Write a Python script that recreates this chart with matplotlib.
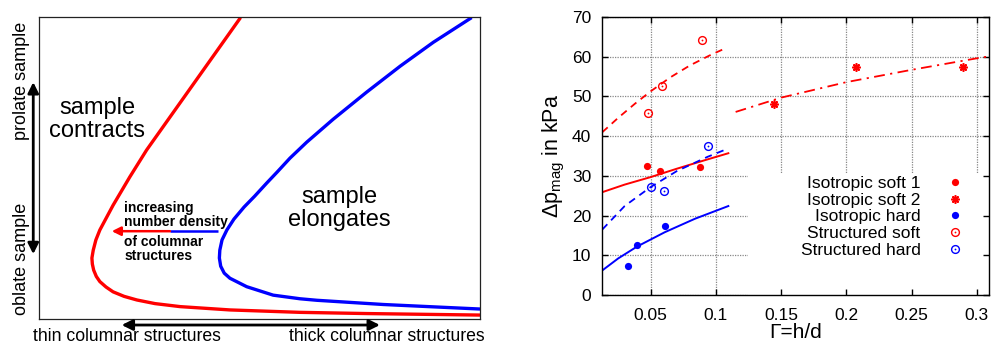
import numpy as np
import matplotlib
matplotlib.use('Agg')
import matplotlib.pyplot as plt
from matplotlib.patches import Rectangle

plt.rcParams['font.family'] = ['Liberation Sans', 'DejaVu Sans']
plt.rcParams['mathtext.fontset'] = 'custom'
plt.rcParams['mathtext.rm'] = 'Liberation Sans'
plt.rcParams['mathtext.it'] = 'Liberation Sans:italic'

# ---- left panel: schematic curves (axes fraction coordinates) ----
red_u = [0.457, 0.244, 0.206, 0.168, 0.138, 0.129, 0.123, 0.120, 0.121, 0.124,
         0.130, 0.138, 0.152, 0.168, 0.193, 0.222, 0.263, 0.320, 0.433, 0.592,
         0.743, 1.0]
red_w = [0.999, 0.560, 0.471, 0.377, 0.295, 0.262, 0.228, 0.202, 0.182, 0.162,
         0.141, 0.124, 0.106, 0.090, 0.075, 0.063, 0.051, 0.041, 0.030, 0.022,
         0.018, 0.013]
blue_u = [0.981, 0.894, 0.819, 0.743, 0.667, 0.607, 0.569, 0.540, 0.516, 0.489,
          0.465, 0.442, 0.426, 0.415, 0.410, 0.409, 0.412, 0.420, 0.433, 0.471,
          0.531, 0.592, 0.630, 0.781, 1.0]
blue_w = [0.999, 0.917, 0.838, 0.752, 0.662, 0.586, 0.533, 0.487, 0.450, 0.407,
          0.371, 0.331, 0.295, 0.262, 0.228, 0.202, 0.175, 0.152, 0.135, 0.107,
          0.079, 0.067, 0.062, 0.048, 0.033]

# ---- right panel: measured points ----
iso_soft1_x = [0.0474, 0.0571, 0.0880]
iso_soft1_y = [32.5, 31.2, 32.2]
iso_soft2_x = [0.1446, 0.2077, 0.2897]
iso_soft2_y = [48.0, 57.3, 57.5]
iso_hard_x = [0.0328, 0.0395, 0.0607]
iso_hard_y = [7.4, 12.5, 17.4]
str_soft_x = [0.0482, 0.0584, 0.0895]
str_soft_y = [45.8, 52.6, 64.1]
str_hard_x = [0.0502, 0.0604, 0.0936]
str_hard_y = [27.1, 26.2, 37.5]

# fit curves
fit_soft1_x = [0.0129, 0.03, 0.05, 0.07, 0.09, 0.1095]
fit_soft1_y = [25.9, 27.8, 29.7, 31.8, 33.8, 35.7]
fit_soft2_x = [0.1151, 0.15, 0.2, 0.25, 0.3, 0.3096]
fit_soft2_y = [46.1, 49.7, 53.6, 56.7, 59.6, 60.1]
fit_hard_x = [0.0129, 0.025, 0.0395, 0.0607, 0.0839, 0.1095]
fit_hard_y = [6.2, 9.2, 12.2, 15.8, 19.2, 22.4]
fit_strsoft_x = [0.0129, 0.025, 0.038, 0.05, 0.065, 0.08, 0.095, 0.1064]
fit_strsoft_y = [41.0, 44.6, 48.2, 51.3, 54.8, 57.8, 60.3, 62.0]
fit_strhard_x = [0.0129, 0.03, 0.05, 0.07, 0.0936, 0.1095]
fit_strhard_y = [16.5, 22.4, 27.2, 31.2, 34.8, 36.9]

xticks = [0.05, 0.1, 0.15, 0.2, 0.25, 0.3]
xtick_labels = ['0.05', '0.1', '0.15', '0.2', '0.25', '0.3']
yticks = [0, 10, 20, 30, 40, 50, 60, 70]

RED = '#ff0000'
BLUE = '#0000ff'

fig = plt.figure(figsize=(9.92, 3.45), dpi=100)

# ================= left panel =================
axl = fig.add_axes([0.0393, 0.0754, 0.4446, 0.8745])
axl.set_xlim(0, 1)
axl.set_ylim(0, 1)
axl.set_xticks([])
axl.set_yticks([])
for s in axl.spines.values():
    s.set_linewidth(0.9)
    s.set_color('#222222')
axl.plot(red_u, red_w, color=RED, lw=2.4, solid_joinstyle='round', solid_capstyle='butt')
axl.plot(blue_u, blue_w, color=BLUE, lw=2.4, solid_joinstyle='round', solid_capstyle='butt')

axl.text(0.132, 0.662, 'sample\ncontracts', fontsize=17, ha='center', va='center',
         linespacing=1.05)
axl.text(0.681, 0.367, 'sample\nelongates', fontsize=17, ha='center', va='center',
         linespacing=1.05)
axl.text(0.193, 0.344, 'increasing\nnumber density', fontsize=10, fontweight='bold',
         ha='left', va='center', linespacing=1.0)
axl.text(0.193, 0.232, 'of columnar\nstructures', fontsize=10, fontweight='bold',
         ha='left', va='center', linespacing=1.0)

# small arrow: blue tail, red head
axl.plot([0.297, 0.407], [0.291, 0.291], color=BLUE, lw=1.8, solid_capstyle='butt')
axl.annotate('', xy=(0.165, 0.291), xytext=(0.297, 0.291),
             arrowprops=dict(arrowstyle='-|>', color=RED, lw=1.8,
                             mutation_scale=13, shrinkA=0, shrinkB=0))

# outer double arrows
axl.annotate('', xy=(-0.013, 0.785), xytext=(-0.013, 0.215), annotation_clip=False,
             arrowprops=dict(arrowstyle='<|-|>', color='black', lw=2.0,
                             mutation_scale=16, shrinkA=0, shrinkB=0))
axl.annotate('', xy=(0.1875, -0.02), xytext=(0.773, -0.02), annotation_clip=False,
             arrowprops=dict(arrowstyle='<|-|>', color='black', lw=2.0,
                             mutation_scale=16, shrinkA=0, shrinkB=0))
axl.text(-0.039, 0.789, 'prolate sample', fontsize=13, rotation=90,
         ha='center', va='center')
axl.text(-0.039, 0.199, 'oblate sample', fontsize=13, rotation=90,
         ha='center', va='center')
axl.text(0.200, -0.0855, 'thin columnar structures', fontsize=12.7,
         ha='center', va='bottom')
axl.text(0.789, -0.0855, 'thick columnar structures', fontsize=12.7,
         ha='center', va='bottom')

# ================= right panel =================
rect = [0.6072, 0.1449, 0.3901, 0.8058]
xlim = (0.0129, 0.3096)
ylim = (0, 70)

axg = fig.add_axes(rect)
axg.set_xlim(*xlim)
axg.set_ylim(*ylim)
axg.set_xticks(xticks)
axg.set_yticks(yticks)
axg.tick_params(length=0, labelbottom=False, labelleft=False)
axg.grid(True, color='#888888', linestyle=(0, (1, 1)), linewidth=0.9)
for s in axg.spines.values():
    s.set_visible(False)

ax = fig.add_axes(rect)
ax.set_facecolor('none')
ax.set_xlim(*xlim)
ax.set_ylim(*ylim)
ax.set_xticks(xticks)
ax.set_xticklabels(xtick_labels)
ax.set_yticks(yticks)
ax.tick_params(direction='in', length=4, width=1, top=True, right=True,
               labelsize=12.5)
ax.tick_params(axis='x', pad=9)
ax.tick_params(axis='y', pad=8)
for s in ax.spines.values():
    s.set_linewidth(1.0)

# white box behind the key
ax.add_patch(Rectangle((0.377, 0.0), 0.623, 0.437, transform=ax.transAxes,
                       facecolor='white', edgecolor='none', zorder=1))

ax.plot(fit_soft1_x, fit_soft1_y, color=RED, lw=1.4)
ax.plot(fit_soft2_x, fit_soft2_y, color=RED, lw=1.3, dashes=(6, 3, 1.2, 3))
ax.plot(fit_hard_x, fit_hard_y, color=BLUE, lw=1.4)
ax.plot(fit_strsoft_x, fit_strsoft_y, color=RED, lw=1.3, dashes=(4, 3))
ax.plot(fit_strhard_x, fit_strhard_y, color=BLUE, lw=1.3, dashes=(4, 3))

h1, = ax.plot(iso_soft1_x, iso_soft1_y, 'o', color=RED, ms=5.2, mew=0)
h2, = ax.plot(iso_soft2_x, iso_soft2_y, marker=(8, 2, 0), ls='none', color=RED,
              ms=6, mew=1.2)
h3, = ax.plot(iso_hard_x, iso_hard_y, 'o', color=BLUE, ms=5.2, mew=0)
h4a, = ax.plot(str_soft_x, str_soft_y, 'o', mfc='none', mec=RED, ms=5.6, mew=1.0)
h4b, = ax.plot(str_soft_x, str_soft_y, 'o', color=RED, ms=1.3, mew=0)
h5a, = ax.plot(str_hard_x, str_hard_y, 'o', mfc='none', mec=BLUE, ms=5.6, mew=1.0)
h5b, = ax.plot(str_hard_x, str_hard_y, 'o', color=BLUE, ms=1.3, mew=0)

ax.legend([h1, h2, h3, (h4a, h4b), (h5a, h5b)],
          ['Isotropic soft 1', 'Isotropic soft 2', 'Isotropic hard',
           'Structured soft', 'Structured hard'],
          loc='center right', bbox_to_anchor=(0.934, 0.281), frameon=False,
          markerfirst=False, fontsize=12.5, handlelength=1.0, handletextpad=1.5,
          labelspacing=0.1, borderpad=0, borderaxespad=0)

ax.set_xlabel('Γ=h/d', fontsize=15, va='top')
ax.xaxis.set_label_coords(0.5, -0.1)
ax.set_ylabel('Δp$_{\\mathrm{mag}}$ in kPa', fontsize=15.5)
ax.yaxis.set_label_coords(-0.092, 0.5)

fig.savefig('out.png', dpi=100)
